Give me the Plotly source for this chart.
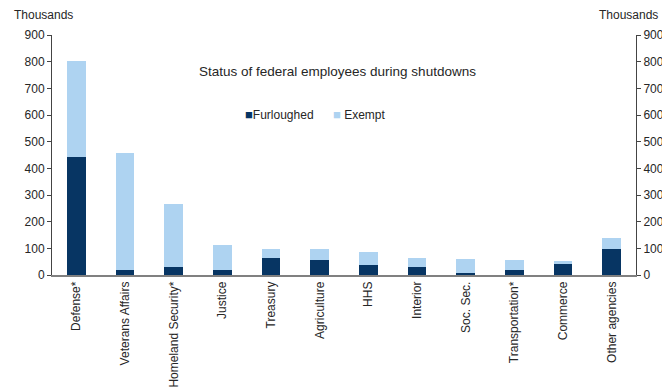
import plotly.graph_objects as go

categories = ["Defense*", "Veterans Affairs", "Homeland Security*", "Justice", "Treasury",
              "Agriculture", "HHS", "Interior", "Soc. Sec.", "Transportation*",
              "Commerce", "Other agencies"]
furloughed = [441, 19, 30, 18, 63, 55, 39, 31, 6, 20, 43, 99]
totals = [804, 456, 265, 114, 96, 96, 86, 64, 59, 58, 51, 140]
exempt = [t - f for t, f in zip(totals, furloughed)]
y_ticks = [0, 100, 200, 300, 400, 500, 600, 700, 800, 900]
series_names = ["Furloughed", "Exempt"]

DARK = "#073563"
LIGHT = "#aed3f1"
FONT = "Liberation Sans, Arial, sans-serif"
TXT = "#262626"

fig = go.Figure()
fig.add_trace(go.Bar(x=categories, y=furloughed, name=series_names[0],
                     marker=dict(color=DARK, line=dict(width=0)), showlegend=False))
fig.add_trace(go.Bar(x=categories, y=exempt, name=series_names[1],
                     marker=dict(color=LIGHT, line=dict(width=0)), showlegend=False))
# invisible trace to draw right axis
fig.add_trace(go.Scatter(x=[categories[0]], y=[0], yaxis="y2", mode="lines",
                         showlegend=False, hoverinfo="skip"))

legend_ann = [
    dict(text=f'<span style="color:{DARK}; font-size:13px">■</span>{series_names[0]}',
         xref="paper", yref="paper", x=0.327, y=0.668, xanchor="left", yanchor="middle",
         showarrow=False, font=dict(size=12, color=TXT)),
    dict(text=f'<span style="color:{LIGHT}; font-size:13px">■</span> {series_names[1]}',
         xref="paper", yref="paper", x=0.478, y=0.668, xanchor="left", yanchor="middle",
         showarrow=False, font=dict(size=12, color=TXT)),
]

fig.update_layout(
    barmode="stack",
    bargap=0.61,
    width=662, height=387,
    margin=dict(l=52, r=26, t=35, b=112, autoexpand=False),
    paper_bgcolor="white", plot_bgcolor="white",
    font=dict(family=FONT, size=12, color=TXT),
    showlegend=False,
    xaxis=dict(tickangle=-90, showline=True, linecolor="#808080", linewidth=1.5,
               ticks="", showgrid=False, automargin=False,
               range=[-0.5, len(categories) - 0.5],
               tickfont=dict(size=12, color=TXT)),
    yaxis=dict(range=[0, 900], tickvals=y_ticks, showline=True, linecolor="#444444",
               linewidth=1, ticks="outside", ticklen=4, tickcolor="#444444",
               showgrid=False, zeroline=False, automargin=False,
               tickfont=dict(size=12, color=TXT)),
    yaxis2=dict(range=[0, 900], tickvals=y_ticks, overlaying="y", side="right",
                showline=True, linecolor="#444444", linewidth=1, ticks="outside",
                ticklen=4, tickcolor="#444444", showgrid=False, zeroline=False,
                automargin=False, tickfont=dict(size=12, color=TXT)),
    annotations=[
        dict(text="Status of federal employees during shutdowns", xref="paper", yref="paper",
             x=0.489, y=0.8875, showarrow=False, font=dict(size=13.5, color=TXT)),
        dict(text="Thousands", xref="paper", yref="paper", x=-0.0685, y=1.083,
             xanchor="left", yanchor="middle", showarrow=False,
             font=dict(size=12, color=TXT)),
        dict(text="Thousands", xref="paper", yref="paper", x=0.988, y=1.083,
             xanchor="center", yanchor="middle", showarrow=False,
             font=dict(size=12, color=TXT)),
    ] + legend_ann,
)

fig.write_html("out.html", config={"displayModeBar": False},
               post_script="document.body.style.margin='0';document.body.style.overflow='hidden';")
